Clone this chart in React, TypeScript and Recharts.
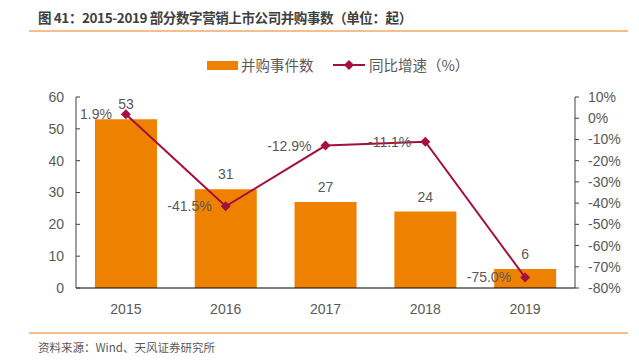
import { Bar, ComposedChart, LabelList, Line, XAxis, YAxis } from "recharts";

const years = ["2015", "2016", "2017", "2018", "2019"];
const dealCounts = [53, 31, 27, 24, 6];
const yoyGrowth = [1.9, -41.5, -12.9, -11.1, -75.0];
const leftTicks = [0, 10, 20, 30, 40, 50, 60];
const rightTicks = [-80, -70, -60, -50, -40, -30, -20, -10, 0, 10];

const BAR = "#EE8200";
const LINE = "#A50F3C";
const TEXT = "#595959";
const FONT = '"Liberation Sans", "Noto Sans CJK SC", sans-serif';
const CJK = '"Noto Sans CJK SC", "Liberation Sans", sans-serif';

const data = years.map((year, i) => ({ year, count: dealCounts[i], growth: yoyGrowth[i] }));

const Diamond = (props: { cx?: number; cy?: number; index?: number }) => {
  const { cx, cy, index } = props;
  if (cx == null || cy == null) return null;
  return <path key={index} d={`M${cx},${cy - 5} L${cx + 5},${cy} L${cx},${cy + 5} L${cx - 5},${cy} Z`} fill={LINE} />;
};

export default function App() {
  return (
    <div style={{ position: "absolute", left: 0, top: 0, width: 639, height: 363, background: "#fff" }}>
      <div
        style={{
          position: "absolute",
          left: 38,
          top: 8,
          fontFamily: CJK,
          fontSize: 13.5,
          fontWeight: 700,
          color: "#404040",
          lineHeight: "18px",
          whiteSpace: "pre",
          letterSpacing: -0.4,
        }}
      >
        图 41：2015-2019 部分数字营销上市公司并购事数（单位：起）
      </div>
      <div style={{ position: "absolute", left: 29, top: 30, width: 599, height: 2, background: "#F7BE8C" }} />

      {/* legend */}
      <div style={{ position: "absolute", left: 207, top: 61, width: 31, height: 9, background: BAR }} />
      <div style={{ position: "absolute", left: 241, top: 55, fontFamily: CJK, fontSize: 14.5, color: TEXT, lineHeight: "20px", whiteSpace: "nowrap" }}>
        并购事件数
      </div>
      <svg style={{ position: "absolute", left: 333, top: 59 }} width={33} height={12}>
        <line x1={0} y1={6} x2={32} y2={6} stroke={LINE} strokeWidth={2} />
        <path d="M16,1 L21,6 L16,11 L11,6 Z" fill={LINE} />
      </svg>
      <div style={{ position: "absolute", left: 369, top: 55, fontFamily: CJK, fontSize: 14.5, color: TEXT, lineHeight: "20px", whiteSpace: "nowrap" }}>
        同比增速（%）
      </div>

      <div style={{ position: "absolute", left: 0, top: 0 }}>
        <ComposedChart
          width={639}
          height={363}
          data={data}
          margin={{ top: 97, right: 14, left: 16, bottom: 45 }}
          barCategoryGap="19%"
          style={{ fontFamily: FONT }}
        >
          <XAxis
            dataKey="year"
            tickLine={false}
            tickMargin={10}
            height={30}
            axisLine={{ stroke: "#000" }}
            tick={{ fontSize: 14, fill: TEXT }}
          />
          <YAxis
            yAxisId="left"
            domain={[0, 60]}
            ticks={leftTicks}
            width={60}
            tickSize={-4}
            tickMargin={16}
            axisLine={{ stroke: "#404040" }}
            tickLine={{ stroke: "#404040" }}
            tick={{ fontSize: 14, fill: TEXT }}
          />
          <YAxis
            yAxisId="right"
            orientation="right"
            domain={[-80, 10]}
            ticks={rightTicks}
            width={50}
            tickSize={4}
            tickMargin={9}
            axisLine={{ stroke: "#404040" }}
            tickLine={{ stroke: "#404040" }}
            tick={{ fontSize: 14, fill: TEXT }}
            tickFormatter={(v) => `${v}%`}
          />
          <Bar yAxisId="left" dataKey="count" fill={BAR} isAnimationActive={false}>
            <LabelList dataKey="count" position="top" offset={10} fill={TEXT} fontSize={14} />
          </Bar>
          <Line
            yAxisId="right"
            dataKey="growth"
            stroke={LINE}
            strokeWidth={2}
            dot={Diamond}
            activeDot={false}
            isAnimationActive={false}
          >
            <LabelList
              dataKey="growth"
              position="left"
              offset={14}
              fill={TEXT}
              fontSize={14}
              formatter={(v: number) => `${Number(v).toFixed(1)}%`}
            />
          </Line>
        </ComposedChart>
      </div>

      <div style={{ position: "absolute", left: 29, top: 332, width: 599, height: 2, background: "#F7BE8C" }} />
      <div style={{ position: "absolute", left: 38, top: 339, fontFamily: CJK, fontSize: 11.5, color: TEXT, lineHeight: "16px", whiteSpace: "nowrap" }}>
        资料来源：Wind、天风证券研究所
      </div>
    </div>
  );
}
